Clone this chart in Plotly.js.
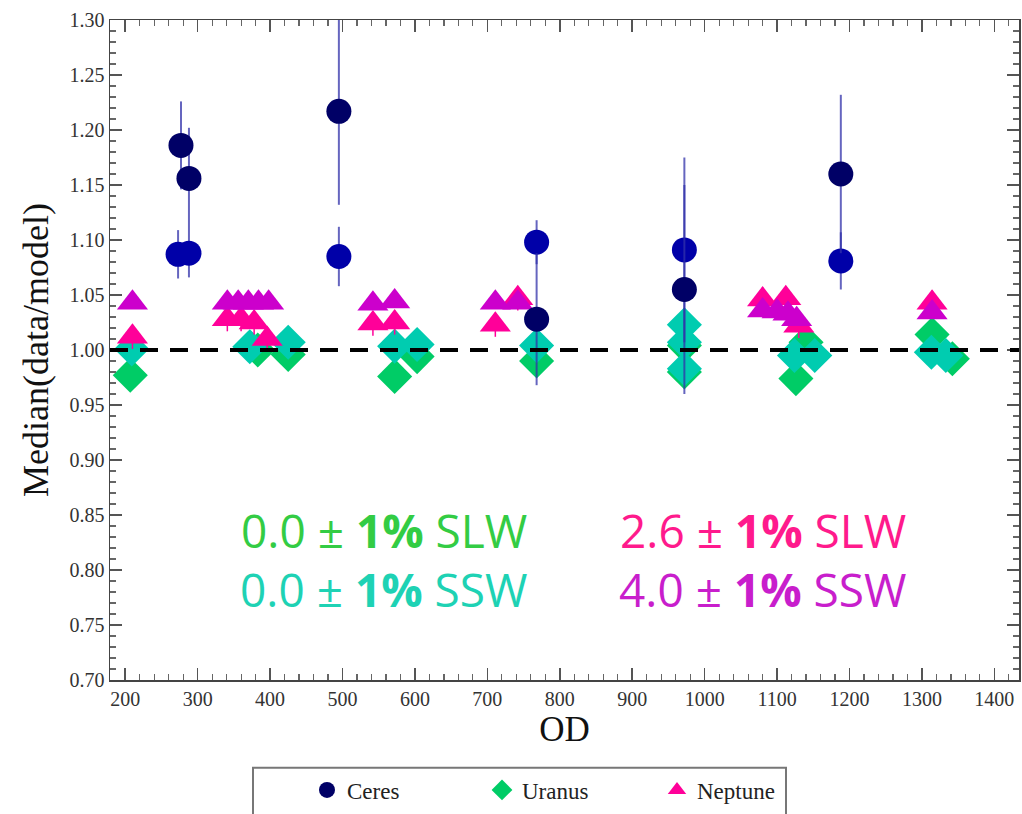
<!DOCTYPE html>
<html>
<head>
<meta charset="utf-8">
<script src="https://cdn.plot.ly/plotly-3.0.1.min.js"></script>
<style>html,body{margin:0;padding:0;background:#fff;}#chart{width:1022px;height:814px;}</style>
</head>
<body>
<div id="chart"></div>
<script>
// Ceres (two bands)
const ceresDarkX = [277, 288, 495, 768, 972, 1188];
const ceresDarkY = [1.186, 1.156, 1.217, 1.028, 1.055, 1.160];
const ceresDarkErr = [0.040, 0.046, 0.085, 0.060, 0.095, 0.072];
const ceresBlueX = [273, 288, 495, 768, 972, 1188];
const ceresBlueY = [1.087, 1.088, 1.085, 1.098, 1.091, 1.081];
const ceresBlueErr = [0.022, 0.022, 0.027, 0.020, 0.084, 0.026];
// Uranus (two bands)
const uranusGreenX = [207, 383, 425, 572, 603, 768, 972, 972, 1126, 1140, 1314, 1342];
const uranusGreenY = [0.977, 1.000, 0.996, 0.976, 0.994, 0.990, 1.004, 0.980, 0.974, 1.007, 1.014, 0.992];
const uranusTealX = [209, 372, 425, 572, 603, 768, 972, 972, 972, 1124, 1152, 1313, 1333];
const uranusTealY = [1.001, 1.003, 1.007, 1.0035, 1.005, 1.004, 1.023, 1.007, 0.983, 0.995, 0.995, 0.998, 0.995];
// Neptune (two bands)
const neptunePinkX = [210, 341, 360, 378, 396, 542, 572, 711, 742, 1080, 1112, 1130, 1314];
const neptunePinkY = [1.012, 1.028, 1.028, 1.025, 1.010, 1.024, 1.025, 1.023, 1.047, 1.046, 1.047, 1.022, 1.043];
const neptunePinkErr = [0.011, 0.011, 0.011, 0.011, 0.011, 0.011, 0.011, 0.011, 0.011, 0.011, 0.011, 0.011, 0.011];
const neptunePurpleX = [210, 341, 356, 370, 384, 398, 542, 572, 711, 742, 1080, 1100, 1115, 1127, 1314];
const neptunePurpleY = [1.043, 1.043, 1.043, 1.043, 1.043, 1.043, 1.042, 1.044, 1.043, 1.043, 1.036, 1.035, 1.033, 1.028, 1.034];

const xTicks = [200, 300, 400, 500, 600, 700, 800, 900, 1000, 1100, 1200, 1300, 1400];
const yTicks = [0.70, 0.75, 0.80, 0.85, 0.90, 0.95, 1.00, 1.05, 1.10, 1.15, 1.20, 1.25, 1.30];
const refLevel = 1.0;
const labels = [
  {x: 557, y: 0.836, text: '0.0 ± <b>1%</b> SLW', color: '#33cc44'},
  {x: 557, y: 0.783, text: '0.0 ± <b>1%</b> SSW', color: '#1ed2b4'},
  {x: 1080, y: 0.836, text: '2.6 ± <b>1%</b> SLW', color: '#ff1a8c'},
  {x: 1080, y: 0.783, text: '4.0 ± <b>1%</b> SSW', color: '#c81ecc'}
];

const errStyle = {type: 'data', visible: true, color: 'rgba(50,50,170,0.75)', thickness: 2, width: 0};
const traces = [
  {x: uranusGreenX, y: uranusGreenY, type: 'scatter', mode: 'markers', name: 'Uranus', legendrank: 2,
   marker: {symbol: 'diamond', size: 27, color: '#00cc66', line: {width: 0}}},
  {x: uranusTealX, y: uranusTealY, type: 'scatter', mode: 'markers', name: 'Uranus SSW', showlegend: false,
   marker: {symbol: 'diamond', size: 27, color: '#00ccb0', line: {width: 0}}},
  {x: neptunePinkX, y: neptunePinkY, type: 'scatter', mode: 'markers', name: 'Neptune', legendrank: 3,
   error_y: {type: 'data', array: neptunePinkErr, visible: true, color: '#ff0099', thickness: 1.5, width: 0},
   marker: {symbol: 'triangle-up', size: 27, color: '#ff0099', line: {width: 0}}},
  {x: neptunePurpleX, y: neptunePurpleY, type: 'scatter', mode: 'markers', name: 'Neptune SSW', showlegend: false,
   marker: {symbol: 'triangle-up', size: 27, color: '#cc00cc', line: {width: 0}}},
  {x: ceresBlueX, y: ceresBlueY, type: 'scatter', mode: 'markers', name: 'Ceres SSW', showlegend: false,
   error_y: Object.assign({array: ceresBlueErr}, errStyle),
   marker: {symbol: 'circle', size: 25, color: '#0000a8', line: {width: 0}}},
  {x: ceresDarkX, y: ceresDarkY, type: 'scatter', mode: 'markers', name: 'Ceres', legendrank: 1,
   error_y: Object.assign({array: ceresDarkErr}, errStyle),
   marker: {symbol: 'circle', size: 25, color: '#000066', line: {width: 0}}}
];

const serif = 'Liberation Serif, Times New Roman, serif';
const pw = 909, ph = 662;
const layout = {
  width: 1022, height: 814,
  margin: {l: 110, r: 3, t: 20, b: 132},
  paper_bgcolor: '#ffffff', plot_bgcolor: '#ffffff',
  showlegend: true,
  legend: {orientation: 'h', x: (307 - 110) / pw, xanchor: 'left', y: -0.134, yanchor: 'top',
    bgcolor: 'rgba(0,0,0,0)', borderwidth: 0, entrywidth: 130, entrywidthmode: 'pixels',
    font: {family: serif, size: 23, color: '#222'}, traceorder: 'normal'},
  xaxis: {range: [179, 1434], tickvals: xTicks, ticktext: xTicks.map(String),
    ticks: 'inside', ticklen: 12, tickwidth: 1.5, tickcolor: '#555', mirror: 'ticks',
    showline: true, linecolor: '#444', linewidth: 1.5, showgrid: false, zeroline: false,
    minor: {dtick: 20, tick0: 200, ticks: 'inside', ticklen: 6, tickwidth: 1.2, tickcolor: '#666'},
    tickfont: {family: serif, size: 20, color: '#333'},
    title: {text: 'OD', font: {family: serif, size: 35, color: '#111'}, standoff: 8}},
  yaxis: {range: [0.70, 1.30], tickvals: yTicks, ticktext: yTicks.map(v => v.toFixed(2)),
    ticks: 'inside', ticklen: 12, tickwidth: 1.5, tickcolor: '#555', mirror: 'ticks',
    showline: true, linecolor: '#444', linewidth: 1.5, showgrid: false, zeroline: false,
    minor: {dtick: 0.01, tick0: 0.70, ticks: 'inside', ticklen: 6, tickwidth: 1.2, tickcolor: '#666'},
    tickfont: {family: serif, size: 20, color: '#333'},
    title: {text: 'Median(data/model)', font: {family: serif, size: 36, color: '#111'}, standoff: 10}},
  shapes: [
    {type: 'line', xref: 'paper', x0: 0, x1: 1, yref: 'y', y0: refLevel, y1: refLevel, layer: 'above',
     line: {color: '#000', width: 4, dash: '18px,12px'}},
    {type: 'rect', xref: 'paper', yref: 'paper', x0: (253 - 110) / pw, x1: (786 - 110) / pw,
     y0: (682 - 770) / ph, y1: (682 - 830) / ph, line: {color: '#777', width: 2}, fillcolor: 'rgba(0,0,0,0)'}
  ],
  annotations: labels.map(l => ({x: l.x, y: l.y, xref: 'x', yref: 'y', text: l.text, showarrow: false,
    xanchor: 'center', yanchor: 'middle', font: {family: 'Open Sans, sans-serif', size: 46, color: l.color}}))
};

Plotly.newPlot('chart', traces, layout, {displayModeBar: false, staticPlot: true});
</script>
</body>
</html>
